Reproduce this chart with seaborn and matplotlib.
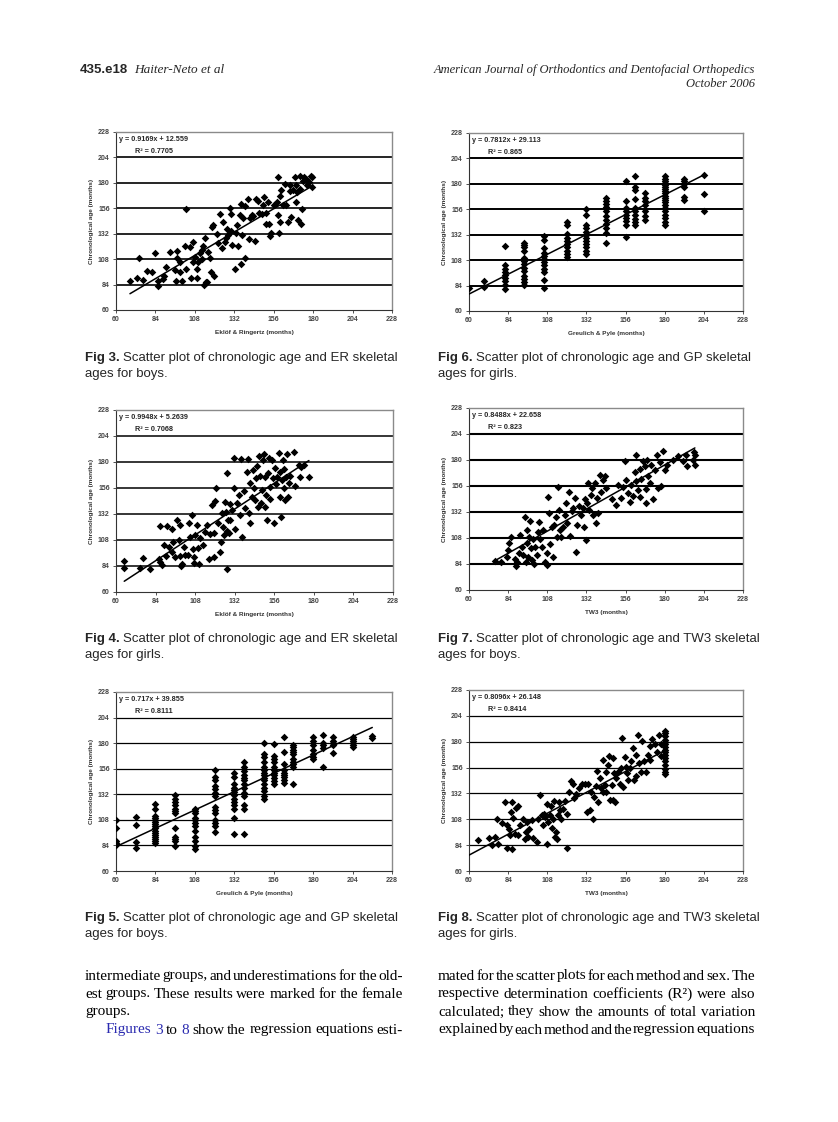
import matplotlib
matplotlib.use("Agg")
import matplotlib.pyplot as plt
import seaborn as sns
import numpy as np

sns.set_style("white")
plt.rcParams['font.family'] = ['Liberation Sans', 'DejaVu Sans']

W, H = 838, 1122

# ---------------- data ----------------
ticks = [60, 84, 108, 132, 156, 180, 204, 228]

# Fig 3  ER boys
fig3_x = [68.5,72.6,74.2,76.2,78.6,81.7,83.7,85.7,85.7,88.4,89.2,90.4,92.8,95.9,96.5,96.9,97.3,98.9,98.9,99.9,
          101.9,102.6,102.6,104.9,105.4,106.6,107,108,109,109.5,110.1,111.1,112.1,113.1,113.5,114.1,114.7,115.1,116.1,117.2,
          117.6,119.2,119.6,121.2,122.2,123.2,124.3,125.3,126.3,127.3,128.3,129.3,129.7,130.3,130.9,132.4,133.4,134.4,135.4,135.8,
          136.2,136.6,137.4,138.4,138.8,140.5,141.1,141.5,142.5,143.5,144.5,145.1,146.6,147.2,148.6,149.6,150.2,151.2,151.6,152.6,
          153.2,153.6,154.6,156.3,157.7,158.7,158.7,159.3,159.7,160.7,161.7,162.7,163.7,164.7,165.7,166.7,167.7,168.7,169.3,169.7,
          170.1,170.7,171.7,172.1,172.7,173.3,173.7,174.7,175.7,177.3,178.8,179.4,179.4,118.5,112.5,127.0,133.0,160.0,166.0,176.0]
fig3_y = [87.3,89.8,108.7,88,97,96.1,113.4,82.3,87.3,89.2,92.3,100.8,115,97.7,87.3,115.9,108.7,104.9,96.1,87.3,
          120.6,155.1,98.6,119.4,90.5,123.8,105.5,110.2,90.5,98.3,104.9,113.4,108,120.6,83.5,127.6,86.7,86,115,109.3,
          95.5,140,92.3,132.1,122.8,151,118.7,143.2,124.4,136.3,130.6,155.8,151,134.4,121.2,98.6,140,120.6,149.6,103,
          159.9,130.6,146.4,158.3,109.3,164.6,126.6,146.4,149.6,148.9,125.3,164.6,162.7,151.7,151,158.9,166.8,152,141.1,162.1,
          141.1,129.7,132.8,159.5,162.1,185.6,149.6,132.8,143.2,173,158.9,179.3,158.9,143.2,177.7,148,173,185.6,177.7,162.1,
          171.4,144.8,186.2,173.9,140.7,155.1,181.5,185.6,183.4,180.9,186.5,176.2,185.6,138.0,117.0,128.0,133.0,168.0,172.0,178.0]
fig3_eq = ["y = 0.9169x + 12.559", "R² = 0.7705"]
fig3_fit = [0.9169, 12.559, 68.5, 180.0]

# Fig 4  ER girls
fig4_x = [65,65,74.4,76.2,80.8,85.9,86.9,86.9,87.9,88.9,90.3,90.9,91.9,93.9,93.9,94.6,96,97,98,98.6,99,99.4,100,101,102.1,
          103.5,104.1,105.1,106.1,106.7,107.1,107.1,108.1,109.1,109.5,110.1,111.2,112.8,114.2,115.2,116.2,117.2,118.2,119.2,119.6,
          120.2,120.8,121.7,122.9,123.7,124.3,124.9,125.5,125.9,126.5,127.2,127.3,127.3,127.7,128.3,129,129.4,130.4,131.4,131.8,
          132.4,133.4,134.4,135.4,135.8,136.4,137.4,138.4,139.5,140.1,140.5,141.1,141.5,142.5,143.1,143.5,144.6,145.2,145.6,146.2,
          146.6,147.6,148,148.6,149.2,149.6,150.2,150.6,151.2,151.6,152,152.6,153.2,153.6,154.6,155.2,155.6,156.6,157.2,157.6,
          158.7,159.3,159.7,160.3,160.7,161.3,161.7,162.1,162.7,163.3,163.7,164.3,164.7,165.7,167.8,168.8,170.8,171.4,172.2,173.8,176.9]
fig4_y = [88.7,82.2,82.2,91.4,81,90.8,87.7,121,85.3,103.2,93.3,121,101.6,118.6,97,106.2,92.4,126.3,107.8,121.7,93.3,84,85.6,101.6,93.9,
          93.9,124.1,110.9,130.9,100,92.4,87.1,112.4,121.7,101,86.2,110.2,103.2,115.5,121.7,90.8,113.3,140.2,92.4,114.6,
          143.9,156.2,123.8,97,106.2,132.5,120.1,112.4,143.2,134,170.1,81.6,116.4,126.9,114,141.1,126.3,135.5,183.3,155.6,
          117.7,141.7,149.4,130.9,182.4,110.9,153.4,137.1,171,182.4,132.5,123.8,160.2,147.9,172.6,155.6,144.8,164.8,176.3,138.6,
          185.5,167,141.7,154.6,181.8,187.3,138,166.4,149.4,126.3,170.1,183.3,157.1,145.4,181.8,164.8,123.8,174.1,159.6,166.4,
          187.9,147.9,171,128.8,163.3,181.8,173.2,155.6,144.8,165.8,187.3,147.3,160.2,167,189.5,157.7,177.2,166.4,175.6,177.2,166.4]
fig4_eq = ["y = 0.9948x + 5.2639", "R² = 0.7068"]
fig4_fit = [0.9948, 5.2639, 65.0, 177.0]

# Fig 5  GP boys (columns of skeletal age, chronological ages in each column)
fig5_cols = [60, 72, 84, 96, 108, 120, 132, 138, 150, 156, 162, 168, 180, 186, 192, 204, 216]
fig5_vals = [[108,100,88,86,85,84],
             [111,103,87,82],
             [123,118,112,110,108,106,104,102,100,98,96,94,92,90,88,86],
             [131,128,125,122,118,116,114,100,92,90,88,83],
             [118,116,114,110,108,105,102,98,92,88,83,81],
             [155,148,145,140,137,133,130,120,117,114,108,105,102,97],
             [152,148,142,138,136,134,131,128,125,122,118,110,95],
             [162,158,154,150,147,145,142,138,133,130,122,118,95],
             [180,170,167,162,158,155,152,150,147,145,142,138,135,130,128],
             [179,168,165,162,158,155,152,150,147,144,142],
             [186,172,160,155,152,150,148,145,143],
             [178,176,174,172,170,165,162,160,158,142],
             [186,182,178,174,170,167,165],
             [188,180,178,175,158],
             [186,182,180,178,171],
             [186,184,182,180,178,176],
             [187,185]]
fig5_eq = ["y = 0.717x + 39.855", "R² = 0.8111"]
fig5_fit = [0.717, 39.855, 60.0, 216.0]

# Fig 6  GP girls
fig6_cols = [60, 69, 82, 94, 106, 120, 132, 144, 156, 162, 168, 180, 192, 204]
fig6_vals = [[82],
             [88,83],
             [121,103,100,97,94,91,88,85,81],
             [124,122,120,117,110,107,104,101,98,93,90,87,85],
             [131,127,119,115,112,109,106,103,100,97,89,82],
             [144,141,133,129,126,123,120,117,114,111],
             [156,151,141,138,135,132,129,126,123,120,117,114],
             [167,164,161,158,154,150,146,142,138,134,124],
             [183,164,157,154,151,148,145,141,130],
             [187,177,174,166,157,154,151,147,144,141],
             [171,167,164,160,154,150,146],
             [187,185,183,181,179,177,175,173,171,169,167,165,163,160,157,154,151,148,144,141],
             [185,183,180,177,168,165],
             [188,170,154]]
fig6_eq = ["y = 0.7812x + 29.113", "R² = 0.865"]
fig6_fit = [0.7812, 29.113, 60.0, 204.0]

# Fig 7  TW3 boys
fig7_x = [75.9,79.4,83.1,84.1,84.7,85.5,88.2,88.8,89.6,90.8,91.2,92.2,93.3,94.3,94.7,95.3,95.7,96.3,96.9,97.4,98,98.4,99.4,99.8,
          100.4,101.4,102.5,103.1,103.5,104.5,105.5,106.5,107.6,108,108.6,109.2,109.6,110.6,111.6,112,113.3,113.7,114.7,115.3,116.1,
          116.7,117.8,118.8,119.4,120.2,121.4,121.8,122.9,123.9,124.9,125.9,126.3,127.6,128.4,129.6,130.4,131,131.6,132.5,133.1,
          133.7,134.5,135.7,136.1,137.1,137.8,138.6,139.2,140.2,141.2,142.3,143.3,144.3,147.4,150.4,151.4,153.5,154.5,155.5,156.5,
          157.5,158.6,159.6,160.6,161.6,162.3,162.7,163.7,164.7,165.1,165.7,166.7,167.8,168.4,168.8,169.2,169.8,170.8,171.8,172.9,
          173.9,175.3,175.9,176.9,178,179,180,181.1,185.2,188.2,191.3,193,193.4,197.4,197.8,198.4,198.8]
fig7_y = [86.8,85.6,90.8,97,103.8,109.3,88.4,82.2,86.2,93.9,110.9,100.1,92.4,127.8,86.2,115.5,103.8,90.8,109.3,124.1,98.5,87.7,106.8,84,
          100.1,92.4,114,123.2,106.8,100.1,115.5,86.2,83.1,94.5,145.7,130.9,102.5,118.6,90.8,120.1,127.2,109.3,155,134,115.5,
          109.3,118.6,129.4,140.2,122.3,150.9,109.9,132.5,135.5,144.8,95.5,120.1,137.1,129.4,135.5,118.6,143.9,106.2,140.2,158.7,
          134,147.9,154,129.4,158.7,121.7,144.8,130.9,166.4,150.9,161.7,165.4,154,143.9,138.6,157.1,144.8,155.5,178.7,161.7,
          149.4,140.8,157.1,146.4,168.5,184.9,160.2,152.4,145.4,171.6,162.4,178.7,174.1,153.1,140.2,180.2,164.8,158.7,175.6,143.9,
          170.4,184.9,154,177.8,156.2,188,170.4,175.6,180.2,183.3,178.7,184.9,174.1,180.2,187,175.6,184.9]
fig7_eq = ["y = 0.8488x + 22.658", "R² = 0.823"]
fig7_fit = [0.8488, 22.658, 75.0, 198.5]

# Fig 8  TW3 girls
fig8_x = [65.7,72.5,73.9,75.9,77,78,80,82,83.1,83.5,84.7,85.1,85.5,86.1,86.3,87.1,88.2,88.8,89.8,90.2,91.2,93.3,94.3,94.9,95.7,
          96.3,96.9,98.4,99.4,101.4,102.5,103.5,104.5,105.5,106,106.6,107.6,108,108.6,109.6,110,110.6,111.2,112,112.6,113.1,113.7,
          114.7,115.3,115.7,116.7,117.8,118.8,119.8,120.2,121.4,122.3,123.5,124.3,125.9,127.6,129,131,132.1,133.1,134.1,135.1,
          136.1,136.5,137.7,138.6,139.2,140.2,141.2,141.9,142.3,143.3,143.9,144.3,145.4,146,146.4,147.4,148,148.4,148.8,149.4,
          150.4,151.5,152.5,153.5,154.1,154.5,155.5,156.1,156.9,157.5,158.6,159.6,160.6,161,162.3,162.7,163.7,164.3,165.7,166.3,
          167.2,168.4,169.8,170.8,171.2,172.5,174,175,176.6,177.5,178,
          180,180,180,180,180,180,180,180,180,180,180,180,180,180,180,180]
fig8_y = [88.5,90.7,84.5,91.6,108,85.4,105,123.6,81.4,102.5,98.8,93.2,114.3,80.8,124.2,109.3,94.7,118.6,120.5,93.2,102.5,108.6,90.1,96.3,105.6,
          91.6,99.4,107.1,91,87,108,131,111.8,102.5,113.3,110.2,85.4,122.6,105.6,111.8,120.5,100,108.6,124.8,91.6,96.3,90.1,
          111.8,123.6,116.4,108.6,118,124.8,81.4,113.3,132.9,143.4,141.2,127.9,131.9,136.6,140.3,140.3,114.9,141.2,116.4,133.5,
          108.6,128.8,138.7,152.7,123.6,145.9,136.6,162.9,132.9,139.7,151.5,132.9,158.3,167,125.7,139.7,164.5,125.7,150.5,123.6,
          146.5,152.1,141.2,155.2,183.1,138.1,166,156.8,150.5,144.3,155.2,162,173.8,144.3,167.6,148.4,186.2,160.2,151.5,180.6,
          162,151.5,167.6,176.3,162.6,182.5,177.5,170.7,186.2,167,177.5,
          190,188,185,182,178,175,172,170,168,165,162,158,155,152,150,180]
fig8_eq = ["y = 0.8096x + 26.148", "R² = 0.8414"]
fig8_fit = [0.8096, 26.148, 60.0, 180.0]

xlab_er = "Eklöf & Ringertz (months)"
xlab_gp = "Greulich & Pyle (months)"
xlab_tw = "TW3 (months)"
ylab = "Chronological age (months)"

captions = [("Fig 3.", "Scatter plot of chronologic age and ER skeletal", "ages for boys."),
            ("Fig 4.", "Scatter plot of chronologic age and ER skeletal", "ages for girls."),
            ("Fig 5.", "Scatter plot of chronologic age and GP skeletal", "ages for boys."),
            ("Fig 6.", "Scatter plot of chronologic age and GP skeletal", "ages for girls."),
            ("Fig 7.", "Scatter plot of chronologic age and TW3 skeletal", "ages for boys."),
            ("Fig 8.", "Scatter plot of chronologic age and TW3 skeletal", "ages for girls.")]

left_lines = ["intermediate groups, and underestimations for the old-",
              "est groups. These results were marked for the female",
              "groups.",
              "Figures 3 to 8 show the regression equations esti-"]
right_lines = ["mated for the scatter plots for each method and sex. The",
               "respective determination coefficients (R²) were also",
               "calculated; they show the amounts of total variation",
               "explained by each method and the regression equations"]


def expand(cols, vals):
    xs, ys = [], []
    for c, v in zip(cols, vals):
        xs += [c] * len(v)
        ys += list(v)
    return xs, ys


fig5_x, fig5_y = expand(fig5_cols, fig5_vals)
fig6_x, fig6_y = expand(fig6_cols, fig6_vals)

# ---------------- figure ----------------
fig = plt.figure(figsize=(W / 100, H / 100), dpi=100)
fig.patch.set_facecolor("white")


def px_axes(x0, y0, x1, y1):
    return fig.add_axes([x0 / W, 1 - y1 / H, (x1 - x0) / W, (y1 - y0) / H])


def draw_panel(rect, xs, ys, eq, fit, xlab, grid_lw):
    ax = px_axes(*rect)
    ax.set_xlim(60, 228)
    ax.set_ylim(60, 228)
    ax.set_xticks(ticks)
    ax.set_yticks(ticks)
    for t in ticks[1:-1]:
        ax.axhline(t, color="black", lw=grid_lw, zorder=1)
    sns.scatterplot(x=xs, y=ys, ax=ax, marker="D", color="black", s=15,
                    linewidth=0, zorder=3, legend=False)
    a, b, x0, x1 = fit
    sns.lineplot(x=[x0, x1], y=[a * x0 + b, a * x1 + b], ax=ax, color="black",
                 lw=1.1, zorder=4, legend=False)
    for s in ["top", "right"]:
        ax.spines[s].set_color("#8a8a8a")
        ax.spines[s].set_linewidth(1.0)
    for s in ["left", "bottom"]:
        ax.spines[s].set_color("#333333")
        ax.spines[s].set_linewidth(0.8)
    ax.tick_params(axis="both", direction="out", length=2.5, width=0.6,
                   labelsize=5, colors="#333333", pad=2,
                   bottom=True, left=True)
    for lab in ax.get_xticklabels() + ax.get_yticklabels():
        lab.set_fontweight("bold")
        lab.set_color("#444444")
    ax.set_xlabel(xlab, fontsize=4.6, fontweight="bold", color="#333333", labelpad=5)
    ax.set_ylabel(ylab, fontsize=4.6, fontweight="bold", color="#333333", labelpad=3)
    ax.text(0.012, 0.96, eq[0], transform=ax.transAxes, fontsize=5.2,
            fontweight="bold", va="center", ha="left", zorder=5)
    ax.text(0.07, 0.893, eq[1], transform=ax.transAxes, fontsize=5.2,
            fontweight="bold", va="center", ha="left", zorder=5)
    return ax


draw_panel((116, 132, 392, 310), fig3_x, fig3_y, fig3_eq, fig3_fit, xlab_er, 1.2)
draw_panel((116, 410, 393, 592), fig4_x, fig4_y, fig4_eq, fig4_fit, xlab_er, 1.1)
draw_panel((116, 692, 392, 871), fig5_x, fig5_y, fig5_eq, fig5_fit, xlab_gp, 0.9)
draw_panel((469, 133, 743, 311), fig6_x, fig6_y, fig6_eq, fig6_fit, xlab_gp, 1.4)
draw_panel((469, 408, 743, 590), fig7_x, fig7_y, fig7_eq, fig7_fit, xlab_tw, 1.5)
draw_panel((469, 690, 743, 871), fig8_x, fig8_y, fig8_eq, fig8_fit, xlab_tw, 0.9)

renderer = fig.canvas.get_renderer()


def ftext(x, y, s, **kw):
    return fig.text(x / W, 1 - y / H, s, **kw)


def width_of(t):
    return t.get_window_extent(renderer).width


# header
ftext(80, 70, "435.e18", fontsize=9.5, fontweight="bold", va="center",
      family=["Liberation Sans"])
ftext(134, 70, "Haiter-Neto et al", fontsize=9.5, style="italic", va="center",
      family=["Liberation Serif"])
ftext(755, 70, "American Journal of Orthodontics and Dentofacial Orthopedics", fontsize=9,
      style="italic", va="center", ha="right", family=["Liberation Serif"])
ftext(755, 84, "October 2006", fontsize=9, style="italic", va="center", ha="right",
      family=["Liberation Serif"])

# captions
cap_fam = ["Liberation Sans"]
cap_fs = 9.5
cap_pos = [(85, 358), (85, 639), (85, 918), (438, 358), (438, 639), (438, 918)]
for (bold, rest, line2), (cx, cy) in zip(captions, cap_pos):
    t = ftext(cx, cy, bold, fontsize=cap_fs, fontweight="bold", va="center", family=cap_fam)
    w = width_of(t)
    ftext(cx + w + 3, cy, rest, fontsize=cap_fs, va="center", family=cap_fam)
    ftext(cx, cy + 16, line2, fontsize=cap_fs, va="center", family=cap_fam)

# body text, justified
body_fam = ["Liberation Serif"]
blue = "#2b2bb0"
body_fs = 11


def justify(line, x0, x1, y, fs, last=False, colors=None):
    words = line.split(" ")
    objs = []
    for i, wd in enumerate(words):
        c = colors[i] if colors else "black"
        objs.append(ftext(x0, y, wd, fontsize=fs, va="center", family=body_fam, color=c))
    widths = [width_of(o) for o in objs]
    if last or len(words) == 1:
        gap = 3.5
    else:
        gap = (x1 - x0 - sum(widths)) / (len(words) - 1)
    x = x0
    for o, w in zip(objs, widths):
        o.set_x(x / W)
        x += w + gap


ly = [976, 994, 1012, 1030]
justify(left_lines[0], 85, 403, ly[0], body_fs)
justify(left_lines[1], 85, 403, ly[1], body_fs)
justify(left_lines[2], 85, 403, ly[2], body_fs, last=True)
cols4 = [blue, blue, "black", blue] + ["black"] * 10
justify(left_lines[3], 106, 403, ly[3], body_fs, colors=cols4)
for i, ln in enumerate(right_lines):
    justify(ln, 438, 755, ly[i], body_fs)

fig.savefig("out.png", dpi=100, facecolor="white")
